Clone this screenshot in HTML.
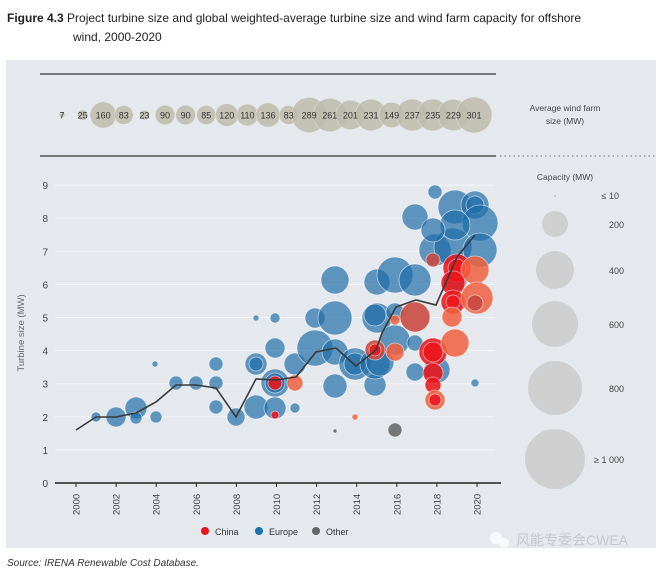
<!DOCTYPE html>
<html><head><meta charset="utf-8"><style>
body{margin:0;background:#fff;width:661px;height:574px;overflow:hidden;font-family:"Liberation Sans",sans-serif}
</style></head><body>
<svg width="661" height="574" xmlns="http://www.w3.org/2000/svg" font-family="Liberation Sans, sans-serif">
<text x="7" y="22" font-size="12" fill="#222"><tspan font-weight="bold">Figure 4.3</tspan>  Project turbine size and global weighted-average turbine size and wind farm capacity for offshore</text>
<text x="73" y="41" font-size="12" fill="#222">wind, 2000-2020</text>
<rect x="6" y="60" width="650" height="488" fill="#e5e9ed"/>
<line x1="40" y1="74" x2="496" y2="74" stroke="#555" stroke-width="1.5"/>
<line x1="40" y1="156" x2="496" y2="156" stroke="#555" stroke-width="1.5"/>
<line x1="500" y1="156" x2="655" y2="156" stroke="#777" stroke-width="1" stroke-dasharray="1.5,3"/>
<g fill="#bdbbaa" fill-opacity="0.85" stroke="#e5e9ed" stroke-width="0.5" id="top"></g>
<g font-size="9" fill="#333" text-anchor="middle" id="toptext"></g>
<text x="565" y="111" font-size="8.5" fill="#444" text-anchor="middle">Average wind farm</text>
<text x="565" y="124" font-size="8.5" fill="#444" text-anchor="middle">size (MW)</text>
<g stroke="#f4f6f8" stroke-width="1" id="grid"></g>
<g font-size="10" fill="#444" text-anchor="end" id="ylab"></g>
<text transform="translate(24,333) rotate(-90)" font-size="9.5" fill="#666" text-anchor="middle">Turbine size (MW)</text>
<g id="bub" stroke="#ffffff" stroke-opacity="0.6" stroke-width="0.8"></g>
<polyline fill="none" stroke="#3a3a3a" stroke-width="1.6" points="76,430 96,417 116,417 136,413 156,402 176,385 196,385 216,388 236,417 256,379 276,380 296,377 316,352 336,348 356,366 376,350 382,333 396,307 416,300 436,305 457,257 475,235"/>
<line x1="55" y1="483" x2="501" y2="483" stroke="#222" stroke-width="1.5"/>
<g id="xt" stroke="#222" stroke-width="1"></g>
<g font-size="9.5" fill="#444" id="xlab"></g>
<text x="48" y="487" font-size="10" fill="#444" text-anchor="end">0</text>
<circle cx="205" cy="531" r="4" fill="#e8141c"/><text x="215" y="535" font-size="9" fill="#333">China</text>
<circle cx="259" cy="531" r="4" fill="#1a74ad"/><text x="269" y="535" font-size="9" fill="#333">Europe</text>
<circle cx="316" cy="531" r="4" fill="#666"/><text x="326" y="535" font-size="9" fill="#333">Other</text>
<text x="565" y="180" font-size="8.5" fill="#444" text-anchor="middle">Capacity (MW)</text>
<g fill="#cfcfcf">
<circle cx="555" cy="196" r="0.8" fill="#aaa"/>
<circle cx="555" cy="224" r="13"/><circle cx="555" cy="270" r="19"/><circle cx="555" cy="324" r="23"/><circle cx="555" cy="388" r="27"/><circle cx="555" cy="459" r="30"/>
</g>
<g font-size="9" fill="#444" text-anchor="end">
<text x="619" y="199">≤ 10</text><text x="624" y="228">200</text><text x="624" y="274">400</text><text x="624" y="328">600</text><text x="624" y="392">800</text><text x="624" y="463">≥ 1 000</text>
</g>
<circle cx="496" cy="538" r="6" fill="#fff" opacity="0.7"/><circle cx="504" cy="543" r="5" fill="#fff" opacity="0.7"/>
<text x="516" y="545" font-size="14" fill="#c4c8cc" font-family="Liberation Sans, Noto Sans CJK SC, sans-serif">风能专委会CWEA</text>
<text x="7" y="566" font-size="10" fill="#333" font-style="italic">Source: IRENA Renewable Cost Database.</text>
</svg>
<script>
var ns="http://www.w3.org/2000/svg";
function el(p,t,a,txt){var e=document.createElementNS(ns,t);for(var k in a)e.setAttribute(k,a[k]);if(txt!=null)e.textContent=txt;document.getElementById(p).appendChild(e);}
var tv=[7,25,160,83,23,90,90,85,120,110,136,83,289,261,201,231,149,237,235,229,301];
tv.forEach(function(v,i){var x=62+i*20.6;el('top','circle',{cx:x,cy:115,r:Math.max(18*Math.sqrt(v/301),1)});el('toptext','text',{x:x,y:118.5},v);});
for(var i=1;i<=9;i++){var y=483-33.1*i;el('grid','line',{x1:55,y1:y,x2:495,y2:y});el('ylab','text',{x:48,y:y+4},i);}
for(var yr=2000;yr<=2020;yr+=2){var x=76+(yr-2000)*20.05;el('xt','line',{x1:x,y1:483,x2:x,y2:487});el('xlab','text',{transform:'translate('+(x+3.5)+',515) rotate(-90)'},yr);}
var B='rgba(28,108,168,0.68)',O='rgba(240,96,62,0.85)',R='rgba(236,22,28,0.88)',M='rgba(200,72,62,0.88)',G='#777';
var b=[
[96,417,5,B],[116,417,10,B],[136,408,11,B],[136,418,6,B],[156,417,6,B],[155,364,3,B],
[176,383,7,B],[196,383,7,B],[216,383,7,B],[216,364,7,B],[216,407,7,B],[236,417,9,B],
[256,407,12,B],[256,364,11,B],[256,364,7,B],[256,318,3,B],
[275,318,5,B],[275,348,10,B],[275,383,14,B],[275,383,10,B],[275,408,11,B],[295,408,5,B],
[315,318,10,B],[335,318,17,B],[335,280,14,B],[295,364,11,B],[315,348,18,B],[335,352,13,B],[335,386,12,B],
[355,364,16,B],[355,364,11,B],[377,282,13,B],[377,318,15,B],[375,315,11,B],[375,385,11,B],[375,364,15,B],[380,362,14,B],
[395,275,18,B],[395,340,15,B],[415,280,16,B],[415,343,8,B],[415,372,9,B],[437,370,13,B],[415,217,13,B],
[435,192,7,B],[455,207,17,B],[475,205,14,B],[475,205,9,B],[480,223,18,B],[435,250,16,B],[453,247,19,B],[480,250,17,B],
[455,225,15,B],[433,230,12,B],[475,383,4,B],[395,312,9,B],[455,280,12,B],
[275,383,7,R],[275,415,4,R],[295,383,8,O],[355,417,3,O],
[375,350,10,M],[375,350,6,R],[395,320,5,O],[395,352,9,O],[415,317,15,M],
[433,260,7,M],[457,268,14,R],[457,268,9,R],[475,270,14,O],[453,283,12,R],[453,302,12,R],[453,302,7,R],[477,298,16,O],[475,303,8,M],[452,317,10,O],
[433,352,14,R],[433,352,10,R],[455,343,14,O],[433,373,10,R],[433,385,8,R],[435,400,10,O],[435,400,6,R],
[335,431,2,G],[395,430,7,G]];
b.forEach(function(c){el('bub','circle',{cx:c[0],cy:c[1],r:c[2],fill:c[3]});});
</script>
</body></html>
